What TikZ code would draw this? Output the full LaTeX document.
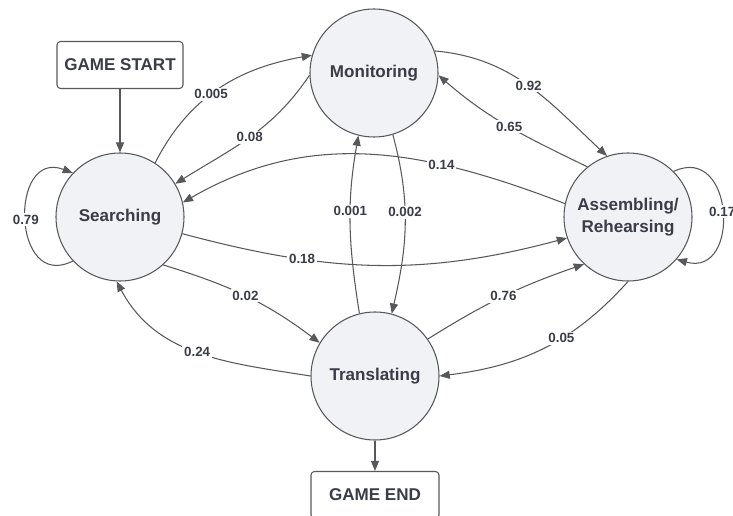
\documentclass[tikz,border=0pt]{standalone}
\usepackage{fontspec}
\setmainfont{Liberation Sans}
\usepackage{xcolor}
\definecolor{stline}{RGB}{88,88,92}
\definecolor{stfill}{RGB}{240,242,246}
\definecolor{sttext}{RGB}{58,61,71}
\usetikzlibrary{arrows.meta,positioning}

\begin{document}
\begin{tikzpicture}[
  state/.style={circle, draw=stline, line width=0.6pt, fill=stfill, minimum size=2.56cm, inner sep=0pt, align=center, font=\fontsize{9.7}{12.5}\selectfont\bfseries, text=sttext},
  endbox/.style={draw=stline, line width=0.6pt, rounded corners=2pt, minimum width=2.52cm, minimum height=0.94cm, font=\fontsize{9.7}{12}\selectfont\bfseries, text=sttext},
  trans/.style={draw=stline, line width=0.6pt, -{Triangle[length=5.8pt,width=4.6pt]}},
  prob/.style={fill=white, inner sep=1pt, font=\fontsize{7.6}{9}\selectfont\bfseries, text=sttext}
]
  \useasboundingbox (0,0) rectangle (14.66,10.3);

  % states
  \node[state] (search) at (2.4,5.96) {Searching};
  \node[state] (monitor) at (7.48,8.84) {Monitoring};
  \node[state] (assemble) at (12.56,5.96) {Assembling/\\Rehearsing};
  \node[state] (translate) at (7.5,2.78) {Translating};

  % start and end
  \node[endbox] (start) at (2.4,9.0) {GAME START};
  \node[endbox, minimum width=2.56cm] (finish) at (7.5,0.4) {GAME END};

  % transitions
  \draw[trans] (start) -- (search);
  \draw[trans] (search.57) to[out=63,in=190] node[prob,pos=0.45] {0.005} (monitor.164);
  \draw[trans] (monitor.182) to[out=236,in=32] node[prob] {0.08} (search.31);
  \draw[trans] (monitor.20) to[out=-5,in=137] node[prob] {0.92} (assemble.109);
  \draw[trans] (assemble.129) to[out=154,in=-41] node[prob] {0.65} (monitor.-2);
  \draw[trans] (assemble.168) to[out=159,in=30] node[prob,pos=0.31] {0.14} (search.13);
  \draw[trans] (search.-15) to[out=-15,in=195] node[prob,pos=0.3] {0.18} (assemble.199);
  \draw[trans] (search.-48) to[out=-17,in=143] node[prob] {0.02} (translate.149);
  \draw[trans] (translate.180) to[out=171,in=-62] node[prob] {0.24} (search.267);
  \draw[trans] (translate.104) to[out=99,in=260] node[prob,pos=0.58] {0.001} (monitor.256);
  \draw[trans] (monitor.-73) to[out=-75,in=77] node[prob,pos=0.43] {0.002} (translate.75);
  \draw[trans] (translate.35) to[out=32,in=199] node[prob] {0.76} (assemble.227);
  \draw[trans] (assemble.270) to[out=228,in=7] node[prob,pos=0.4] {0.05} (translate.0);
  \draw[trans] (search.223) to[out=207,in=159,looseness=2] node[prob] {0.79} (search.137);
  \draw[trans] (assemble.45) to[out=25,in=-16,looseness=1.95] node[prob] {0.17} (assemble.-41.5);
  \draw[trans] (translate) -- (finish);
\end{tikzpicture}
\end{document}
